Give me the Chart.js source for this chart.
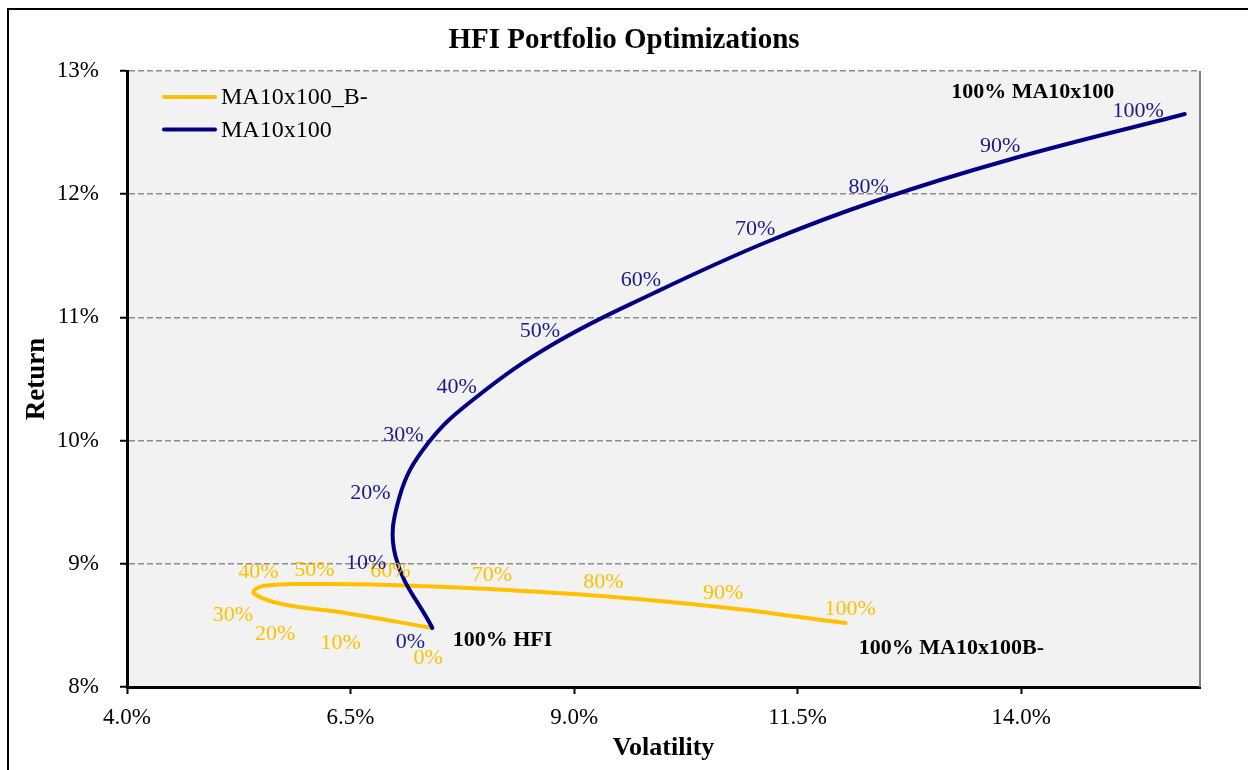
<!DOCTYPE html>
<html>
<head>
<meta charset="utf-8">
<script src="https://cdn.jsdelivr.net/npm/chart.js@4.4.1/dist/chart.umd.min.js"></script>
<style>
html,body{margin:0;padding:0;background:#fff;overflow:hidden}
#wrap{width:1248px;height:770px;position:relative}
</style>
</head>
<body>
<div id="wrap"><canvas id="c" width="1248" height="770"></canvas></div>
<script>
// ---- data ----
const weightLabels = ['0%','10%','20%','30%','40%','50%','60%','70%','80%','90%','100%'];
const seriesNames = ['MA10x100_B-', 'MA10x100'];
const chartTitle = 'HFI Portfolio Optimizations';

// MA10x100_B- (yellow)
const yellowVol = [7.415, 6.444, 5.730, 5.417, 5.518, 6.098, 6.935, 8.063, 9.301, 10.629, 12.036];
const yellowRet = [8.479, 8.601, 8.674, 8.763, 8.820, 8.836, 8.828, 8.795, 8.739, 8.649, 8.519];

// MA10x100 (navy)
const blueVol = [7.415, 7.002, 7.047, 7.359, 7.895, 8.788, 9.893, 11.154, 12.404, 13.855, 15.830];
const blueRet = [8.479, 9.063, 9.542, 9.972, 10.346, 10.792, 11.198, 11.612, 11.953, 12.278, 12.651];

const xTickValues = [4.0, 6.5, 9.0, 11.5, 14.0];
const yTickValues = [8, 9, 10, 11, 12, 13];

const noteTexts = ['100% MA10x100', '100% HFI', '100% MA10x100B-'];
const noteVol = [14.13, 8.20, 13.22];
const noteRet = [12.83, 8.38, 8.31];

// ---- chart ----
const SERIF = "'Liberation Serif', 'Times New Roman', serif";
Chart.defaults.font.family = SERIF;
Chart.defaults.color = '#000';

const toPts = (xs, ys) => xs.map((v, i) => ({x: v, y: ys[i]}));

const bgPlugin = {
  id: 'bg',
  beforeDraw(chart) {
    const {ctx, chartArea: a} = chart;
    ctx.save();
    ctx.fillStyle = '#fff';
    ctx.fillRect(0, 0, chart.width, chart.height);
    ctx.strokeStyle = '#000';
    ctx.lineWidth = 2;
    ctx.strokeRect(8, 9, 1400, 1000);
    ctx.fillStyle = '#f2f2f2';
    ctx.fillRect(a.left, a.top, a.right - a.left, a.bottom - a.top);
    ctx.font = 'bold 29px ' + SERIF;
    ctx.fillStyle = '#000';
    ctx.textAlign = 'center';
    ctx.textBaseline = 'middle';
    ctx.fillText(chartTitle, chart.width / 2, 41);
    ctx.restore();
  },
  beforeDatasetsDraw(chart) {
    const {ctx, chartArea: a} = chart;
    ctx.save();
    ctx.strokeStyle = '#808080';
    ctx.lineWidth = 2;
    ctx.beginPath();
    ctx.moveTo(a.right, a.top);
    ctx.lineTo(a.right, a.bottom);
    ctx.stroke();
    ctx.restore();
  }
};

const pointLabelPlugin = {
  id: 'pointLabels',
  afterDatasetsDraw(chart) {
    const {ctx} = chart;
    ctx.save();
    const size = 22;
    ctx.font = size + 'px ' + SERIF;
    ctx.textAlign = 'center';
    ctx.textBaseline = 'middle';
    chart.data.datasets.forEach((ds, di) => {
      const meta = chart.getDatasetMeta(di);
      const pts = meta.data;
      ctx.fillStyle = ds.labelColor;
      pts.forEach((p, j) => {
        const txt = ds.pointLabels[j];
        const w = ctx.measureText(txt).width;
        const prev = pts[j - 1] || p;
        const next = pts[j + 1] || p;
        const dx = next.x - prev.x, dy = next.y - prev.y;
        const len = Math.hypot(dx, dy) || 1;
        const nx = dy / len, ny = -dx / len;
        let cx, cy;
        if (j === pts.length - 1 && ds.endLabelSide === 'left') {
          cx = p.x - 21 - w / 2;
          cy = p.y - 3;
        } else {
          cx = p.x + nx * (10 + w / 2);
          cy = p.y + ny * (ny < 0 ? 14 : 31);
        }
        ctx.fillText(txt, cx, cy);
      });
    });
    ctx.restore();
  }
};

const legendPlugin = {
  id: 'innerLegend',
  afterDraw(chart) {
    const {ctx, chartArea: a} = chart;
    ctx.save();
    ctx.font = '24px ' + SERIF;
    ctx.textAlign = 'left';
    ctx.textBaseline = 'middle';
    chart.data.datasets.forEach((ds, k) => {
      const y = a.top + 26 + k * 32.5;
      ctx.strokeStyle = ds.borderColor;
      ctx.lineWidth = 4;
      ctx.lineCap = 'round';
      ctx.beginPath();
      ctx.moveTo(a.left + 37, y);
      ctx.lineTo(a.left + 88, y);
      ctx.stroke();
      ctx.fillStyle = '#000';
      ctx.fillText(ds.label, a.left + 94, y + 1);
    });
    ctx.restore();
  }
};

const notesPlugin = {
  id: 'notes',
  afterDraw(chart) {
    const {ctx, scales: {x, y}} = chart;
    ctx.save();
    ctx.font = 'bold 22px ' + SERIF;
    ctx.textAlign = 'center';
    ctx.textBaseline = 'middle';
    ctx.fillStyle = '#000';
    noteTexts.forEach((t, i) => {
      ctx.fillText(t, x.getPixelForValue(noteVol[i]), y.getPixelForValue(noteRet[i]));
    });
    ctx.restore();
  }
};

new Chart(document.getElementById('c'), {
  type: 'scatter',
  data: {
    datasets: [
      {
        label: seriesNames[0],
        data: toPts(yellowVol, yellowRet),
        borderColor: '#FFC000',
        backgroundColor: '#FFC000',
        labelColor: '#FFC000',
        pointLabels: weightLabels,
        borderWidth: 4,
        showLine: true,
        tension: 0.4,
        pointRadius: 0,
        borderCapStyle: 'round',
        order: 1
      },
      {
        label: seriesNames[1],
        data: toPts(blueVol, blueRet),
        borderColor: '#000080',
        backgroundColor: '#000080',
        labelColor: '#1a1a8a',
        pointLabels: weightLabels,
        endLabelSide: 'left',
        borderWidth: 4,
        showLine: true,
        tension: 0.4,
        pointRadius: 0,
        borderCapStyle: 'round',
        order: 0
      }
    ]
  },
  options: {
    responsive: false,
    animation: false,
    devicePixelRatio: 1,
    layout: {padding: {left: 0, top: 71, right: 48, bottom: 0}},
    plugins: {
      legend: {display: false},
      tooltip: {enabled: false},
      title: {display: false}
    },
    scales: {
      x: {
        type: 'linear',
        min: 4,
        max: 16,
        afterBuildTicks: s => { s.ticks = xTickValues.map(v => ({value: v})); },
        afterFit: s => { s.height = 83; },
        ticks: {
          callback: v => Number(v).toFixed(1) + '%',
          font: {size: 23, family: SERIF},
          color: '#000',
          padding: 10,
          maxRotation: 0,
          autoSkip: false
        },
        grid: {drawOnChartArea: false, drawTicks: true, tickLength: 7, tickColor: '#000', tickWidth: 2},
        border: {display: true, color: '#000', width: 3},
        title: {
          display: true,
          text: 'Volatility',
          color: '#000',
          font: {size: 26, weight: 'bold', family: SERIF},
          padding: {top: 0, bottom: 6}
        }
      },
      y: {
        type: 'linear',
        min: 8,
        max: 13,
        afterBuildTicks: s => { s.ticks = yTickValues.map(v => ({value: v})); },
        afterFit: s => { s.width = 127; },
        ticks: {
          callback: v => v + '%',
          font: {size: 23, family: SERIF},
          color: '#000',
          padding: 21,
          autoSkip: false
        },
        grid: {
          color: '#8c8c8c',
          lineWidth: 1.5,
          drawTicks: true,
          tickLength: 7,
          tickColor: '#000',
          tickWidth: 2,
          tickBorderDash: []
        },
        border: {display: true, color: '#000', width: 3, dash: [6, 3]},
        title: {
          display: true,
          text: 'Return',
          color: '#000',
          font: {size: 27, weight: 'bold', family: SERIF},
          padding: {top: 21, bottom: 0}
        }
      }
    }
  },
  plugins: [bgPlugin, pointLabelPlugin, legendPlugin, notesPlugin]
});
</script>
</body>
</html>
